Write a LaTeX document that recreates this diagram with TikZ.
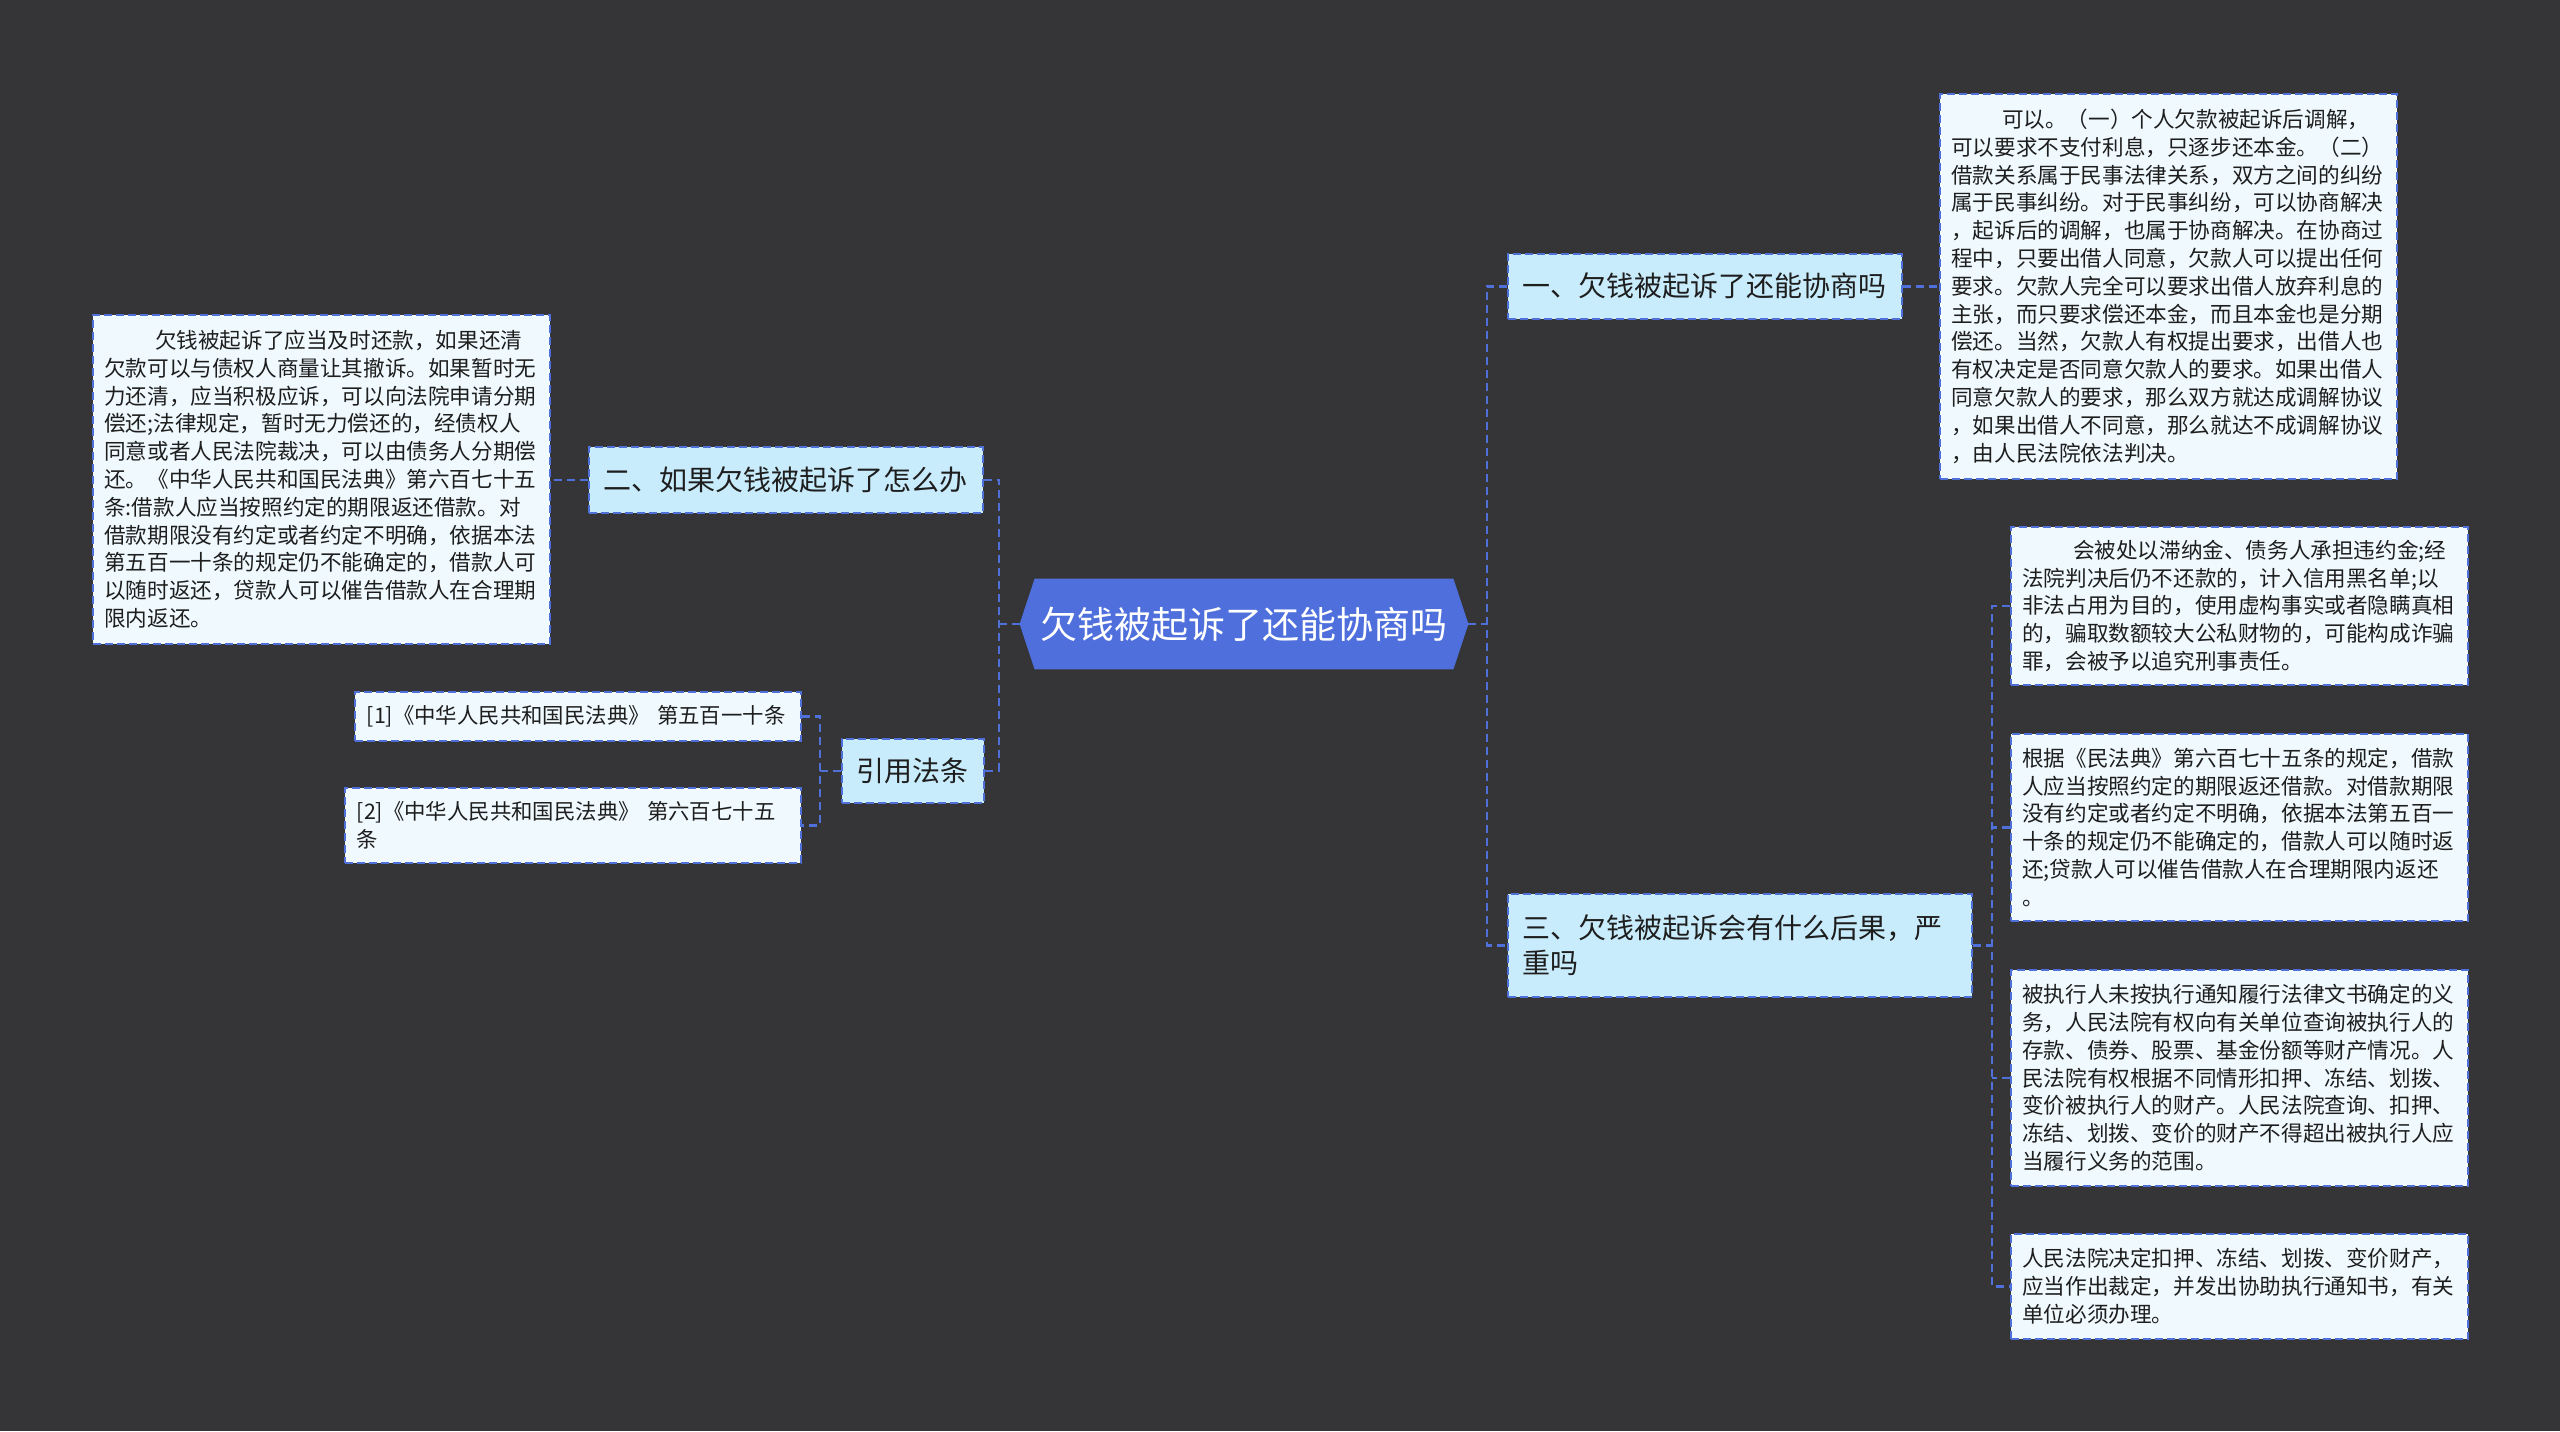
\documentclass[tikz,border=0pt]{standalone}
\usepackage{fontspec}
\setmainfont{Noto Sans CJK SC}
\usetikzlibrary{calc,backgrounds}
\definecolor{bg}{HTML}{353537}
\definecolor{edge}{HTML}{4E70D8}
\definecolor{rootfill}{HTML}{4E6FDC}
\definecolor{brfill}{HTML}{C8ECFC}
\definecolor{lffill}{HTML}{F0FAFE}
\definecolor{txt}{HTML}{1E1E1E}
\begin{document}
\begin{tikzpicture}[x=0.5pt,y=-0.5pt,
  conn/.style={draw=edge,line width=1.2pt,dash pattern=on 4pt off 2.5pt},
  boxbase/.style={anchor=north west,draw=edge,line width=0.8pt,dash pattern=on 4pt off 2pt,text=txt,inner ysep=0pt,align=left},
  branch/.style={boxbase,fill=brfill,font=\fontsize{14pt}{17.5pt}\selectfont,inner xsep=7.5pt},
  leaf/.style={boxbase,fill=lffill,font=\fontsize{10.8pt}{13.9pt}\selectfont,inner xsep=5.75pt,text width=217pt,minimum width=228.5pt},
  refbox/.style={boxbase,fill=lffill,font=\fontsize{10.7pt}{13.6pt}\selectfont,inner xsep=6pt}]
\useasboundingbox (0,0) rectangle (2560,1431);

% central node
\node[inner sep=0pt,minimum width=224pt,minimum height=45pt,text=white,
      font=\fontsize{18.5pt}{22pt}\selectfont] (root) at (1244,624) {欠钱被起诉了还能协商吗};

% branches
\node[branch,minimum width=196pt,minimum height=32.5pt] (b1) at (1507,253) {一、欠钱被起诉了还能协商吗};
\node[branch,minimum width=196.5pt,minimum height=33pt] (b2) at (588,446) {二、如果欠钱被起诉了怎么办};
\node[branch,minimum width=69.5pt,minimum height=32pt] (b4) at (841,738) {引用法条};
\node[branch,text width=217pt,minimum width=232pt,minimum height=51.5pt] (b3) at (1507,893) {三、欠钱被起诉会有什么后果，严\\重吗};

% leaves
\node[leaf,minimum height=192.5pt] (l1) at (1939,93) {\hspace*{2.35em}可以。（一）个人欠款被起诉后调解，\\
可以要求不支付利息，只逐步还本金。（二）\\
借款关系属于民事法律关系，双方之间的纠纷\\
属于民事纠纷。对于民事纠纷，可以协商解决\\
，起诉后的调解，也属于协商解决。在协商过\\
程中，只要出借人同意，欠款人可以提出任何\\
要求。欠款人完全可以要求出借人放弃利息的\\
主张，而只要求偿还本金，而且本金也是分期\\
偿还。当然，欠款人有权提出要求，出借人也\\
有权决定是否同意欠款人的要求。如果出借人\\
同意欠款人的要求，那么双方就达成调解协议\\
，如果出借人不同意，那么就达不成调解协议\\
，由人民法院依法判决。};

\node[leaf,minimum height=164.5pt] (l2) at (92,314) {\hspace*{2.35em}欠钱被起诉了应当及时还款，如果还清\\
欠款可以与债权人商量让其撤诉。如果暂时无\\
力还清，应当积极应诉，可以向法院申请分期\\
偿还;法律规定，暂时无力偿还的，经债权人\\
同意或者人民法院裁决，可以由债务人分期偿\\
还。《中华人民共和国民法典》第六百七十五\\
条:借款人应当按照约定的期限返还借款。对\\
借款期限没有约定或者约定不明确，依据本法\\
第五百一十条的规定仍不能确定的，借款人可\\
以随时返还，贷款人可以催告借款人在合理期\\
限内返还。};

\node[refbox,text width=211pt,minimum width=223pt,minimum height=24.5pt] (r1) at (354,691) {[1]《中华人民共和国民法典》~第五百一十条};
\node[refbox,text width=216pt,minimum width=228pt,minimum height=37.5pt] (r2) at (344,787) {[2]《中华人民共和国民法典》~第六百七十五\\条};

\node[leaf,minimum height=79pt] (l3a) at (2010,526) {\hspace*{2.35em}会被处以滞纳金、债务人承担违约金;经\\
法院判决后仍不还款的，计入信用黑名单;以\\
非法占用为目的，使用虚构事实或者隐瞒真相\\
的，骗取数额较大公私财物的，可能构成诈骗\\
罪，会被予以追究刑事责任。};

\node[leaf,minimum height=93.5pt] (l3b) at (2010,733) {根据《民法典》第六百七十五条的规定，借款\\
人应当按照约定的期限返还借款。对借款期限\\
没有约定或者约定不明确，依据本法第五百一\\
十条的规定仍不能确定的，借款人可以随时返\\
还;贷款人可以催告借款人在合理期限内返还\\
。};

\node[leaf,minimum height=108pt] (l3c) at (2010,969) {被执行人未按执行通知履行法律文书确定的义\\
务，人民法院有权向有关单位查询被执行人的\\
存款、债券、股票、基金份额等财产情况。人\\
民法院有权根据不同情形扣押、冻结、划拨、\\
变价被执行人的财产。人民法院查询、扣押、\\
冻结、划拨、变价的财产不得超出被执行人应\\
当履行义务的范围。};

\node[leaf,minimum height=52.5pt] (l3d) at (2010,1233) {人民法院决定扣押、冻结、划拨、变价财产，\\
应当作出裁定，并发出协助执行通知书，有关\\
单位必须办理。};

% background and hexagon
\begin{scope}[on background layer]
  \fill[bg] (0,0) rectangle (2560,1431);
  \fill[rootfill] (root.west) -- ($(root.north west)+(15,0)$) -- ($(root.north east)+(-15,0)$)
     -- (root.east) -- ($(root.south east)+(-15,0)$) -- ($(root.south west)+(15,0)$) -- cycle;
\end{scope}

% trunk coordinates
\coordinate (tl) at (999,0);
\coordinate (tr) at (1487,0);
\coordinate (t4) at (820,0);
\coordinate (t3) at (1992,0);

% connectors
\draw[conn] (root.west) -- (root.west -| tl);
\draw[conn] (b2.east) -- (b2.east -| tl) -- (b4.east -| tl) -- (b4.east);
\draw[conn] (root.east) -- (root.east -| tr);
\draw[conn] (b1.west) -- (b1.west -| tr) -- (b3.west -| tr) -- (b3.west);
\draw[conn] (b1.east) -- (l1.west |- b1.east);
\draw[conn] (b2.west) -- (l2.east |- b2.west);
\draw[conn] (b4.west) -- (b4.west -| t4);
\draw[conn] (r1.east) -- (r1.east -| t4) -- (r2.east -| t4) -- (r2.east);
\draw[conn] (b3.east) -- (b3.east -| t3);
\draw[conn] (l3a.west) -- (l3a.west -| t3) -- (l3d.west -| t3) -- (l3d.west);
\draw[conn] (l3b.west) -- (l3b.west -| t3);
\draw[conn] (l3c.west) -- (l3c.west -| t3);
\end{tikzpicture}
\end{document}
